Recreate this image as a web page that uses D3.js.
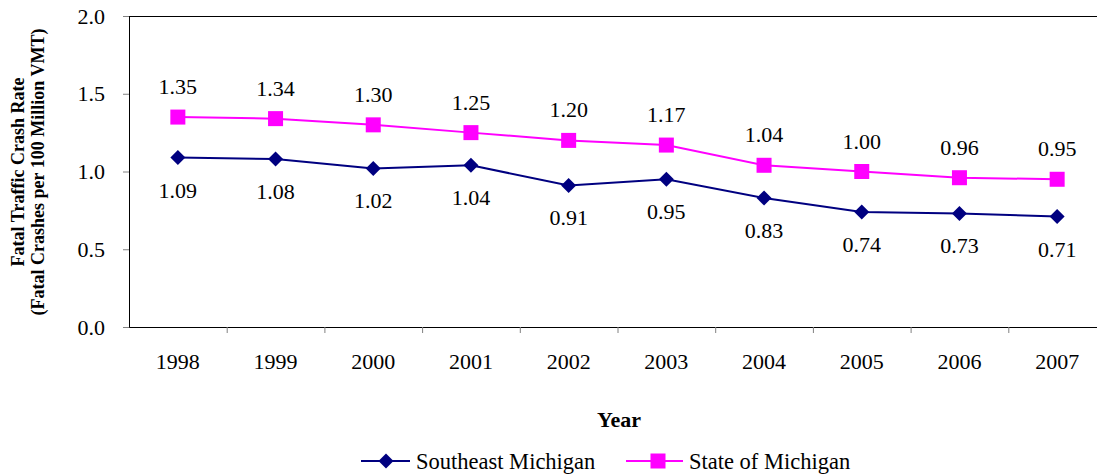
<!DOCTYPE html>
<html>
<head>
<meta charset="utf-8">
<script src="https://cdn.jsdelivr.net/npm/d3@7"></script>
<style>
  body { margin: 0; background: #fff; }
</style>
</head>
<body>
<script>
// data
const years = ['1998', '1999', '2000', '2001', '2002', '2003', '2004', '2005', '2006', '2007'];
const southeast = [1.09, 1.08, 1.02, 1.04, 0.91, 0.95, 0.83, 0.74, 0.73, 0.71];
const stateMi = [1.35, 1.34, 1.30, 1.25, 1.20, 1.17, 1.04, 1.00, 0.96, 0.95];
const yTicks = [0, 0.5, 1.0, 1.5, 2.0];

const FONT = '"Liberation Serif"';
const W = 1097;
const H = 475;
const margin = { top: 16, right: -9, bottom: 148, left: 129 };
const width = W - margin.left - margin.right;
const height = H - margin.top - margin.bottom;

const svg = d3.select('body').append('svg')
  .attr('width', W)
  .attr('height', H);

const g = svg.append('g')
  .attr('transform', `translate(${margin.left},${margin.top})`);

const x = d3.scaleBand().domain(years).range([0, width]);
const y = d3.scaleLinear().domain([0, 2]).range([height, 0]);
const cx = d => x(d) + x.bandwidth() / 2;

// top border
g.append('line')
  .attr('x1', 0).attr('x2', width)
  .attr('y1', 0.5).attr('y2', 0.5)
  .attr('stroke', '#000').attr('stroke-width', 1);

// y axis
const yAxis = g.append('g')
  .call(d3.axisLeft(y).tickValues(yTicks).tickFormat(d3.format('.1f')).tickSize(6).tickPadding(18));
yAxis.select('.domain').attr('stroke', '#000');
yAxis.selectAll('.tick line').attr('stroke', '#808080');
yAxis.selectAll('text').attr('font-size', 22).attr('fill', '#000')
  .style('font-family', FONT);

// x axis, ticks sit between the categories
const xAxis = g.append('g')
  .attr('transform', `translate(0,${height})`)
  .call(d3.axisBottom(x).tickSize(0).tickPadding(26));
xAxis.select('.domain').attr('stroke', '#000');
xAxis.selectAll('text').attr('font-size', 22).attr('fill', '#000')
  .style('font-family', FONT);
g.selectAll('.xtick')
  .data(years.slice(1))
  .enter().append('line')
  .attr('x1', d => x(d) + 0.5).attr('x2', d => x(d) + 0.5)
  .attr('y1', height).attr('y2', height + 6)
  .attr('stroke', '#808080');

// lines
const line = d3.line()
  .x((d, i) => cx(years[i]))
  .y(d => y(d));

g.append('path')
  .datum(southeast)
  .attr('fill', 'none')
  .attr('stroke', '#000080')
  .attr('stroke-width', 2)
  .attr('d', line);

g.append('path')
  .datum(stateMi)
  .attr('fill', 'none')
  .attr('stroke', '#FF00FF')
  .attr('stroke-width', 2)
  .attr('d', line);

// markers
const diamond = 'M0,-7.5L7.5,0L0,7.5L-7.5,0Z';
g.selectAll('.se-pt')
  .data(southeast)
  .enter().append('path')
  .attr('transform', (d, i) => `translate(${cx(years[i])},${y(d)})`)
  .attr('d', diamond)
  .attr('fill', '#000080');

g.selectAll('.st-pt')
  .data(stateMi)
  .enter().append('rect')
  .attr('x', (d, i) => cx(years[i]) - 7.5)
  .attr('y', d => y(d) - 7.5)
  .attr('width', 15).attr('height', 15)
  .attr('fill', '#FF00FF');

// data labels
g.selectAll('.se-lbl')
  .data(southeast)
  .enter().append('text')
  .attr('x', (d, i) => cx(years[i]))
  .attr('y', d => y(d) + 40)
  .attr('text-anchor', 'middle')
  .attr('font-size', 22)
  .style('font-family', FONT)
  .text(d => d.toFixed(2));

g.selectAll('.st-lbl')
  .data(stateMi)
  .enter().append('text')
  .attr('x', (d, i) => cx(years[i]))
  .attr('y', d => y(d) - 23)
  .attr('text-anchor', 'middle')
  .attr('font-size', 22)
  .style('font-family', FONT)
  .text(d => d.toFixed(2));

// axis titles
const yt = svg.append('text')
  .attr('transform', 'translate(0,172) rotate(-90)')
  .attr('text-anchor', 'middle')
  .attr('font-size', 18)
  .attr('font-weight', 'bold')
  .style('font-family', FONT);
yt.append('tspan').attr('x', 0).attr('y', 24).text('Fatal Traffic Crash Rate');
yt.append('tspan').attr('x', 0).attr('y', 44).text('(Fatal Crashes per 100 Million VMT)');

svg.append('text')
  .attr('x', 619).attr('y', 427)
  .attr('text-anchor', 'middle')
  .attr('font-size', 22)
  .attr('font-weight', 'bold')
  .style('font-family', FONT)
  .text('Year');

// legend
const legend = [
  { name: 'Southeast Michigan', color: '#000080', x0: 361, len: 49, mark: 25, shape: 'diamond' },
  { name: 'State of Michigan', color: '#FF00FF', x0: 626, len: 57, mark: 32, shape: 'square' },
];
const lg = svg.selectAll('.legend')
  .data(legend)
  .enter().append('g')
  .attr('transform', d => `translate(${d.x0},461)`);
lg.append('line')
  .attr('x1', 0).attr('x2', d => d.len)
  .attr('stroke', d => d.color).attr('stroke-width', 2);
lg.filter(d => d.shape === 'diamond').append('path')
  .attr('transform', d => `translate(${d.mark},0)`)
  .attr('d', diamond)
  .attr('fill', d => d.color);
lg.filter(d => d.shape === 'square').append('rect')
  .attr('x', d => d.mark - 7.5).attr('y', -7.5).attr('width', 15).attr('height', 15)
  .attr('fill', d => d.color);
lg.append('text')
  .attr('x', d => d.len + 6).attr('y', 8)
  .attr('font-size', 22.5)
  .style('font-family', FONT)
  .text(d => d.name);
</script>
</body>
</html>
